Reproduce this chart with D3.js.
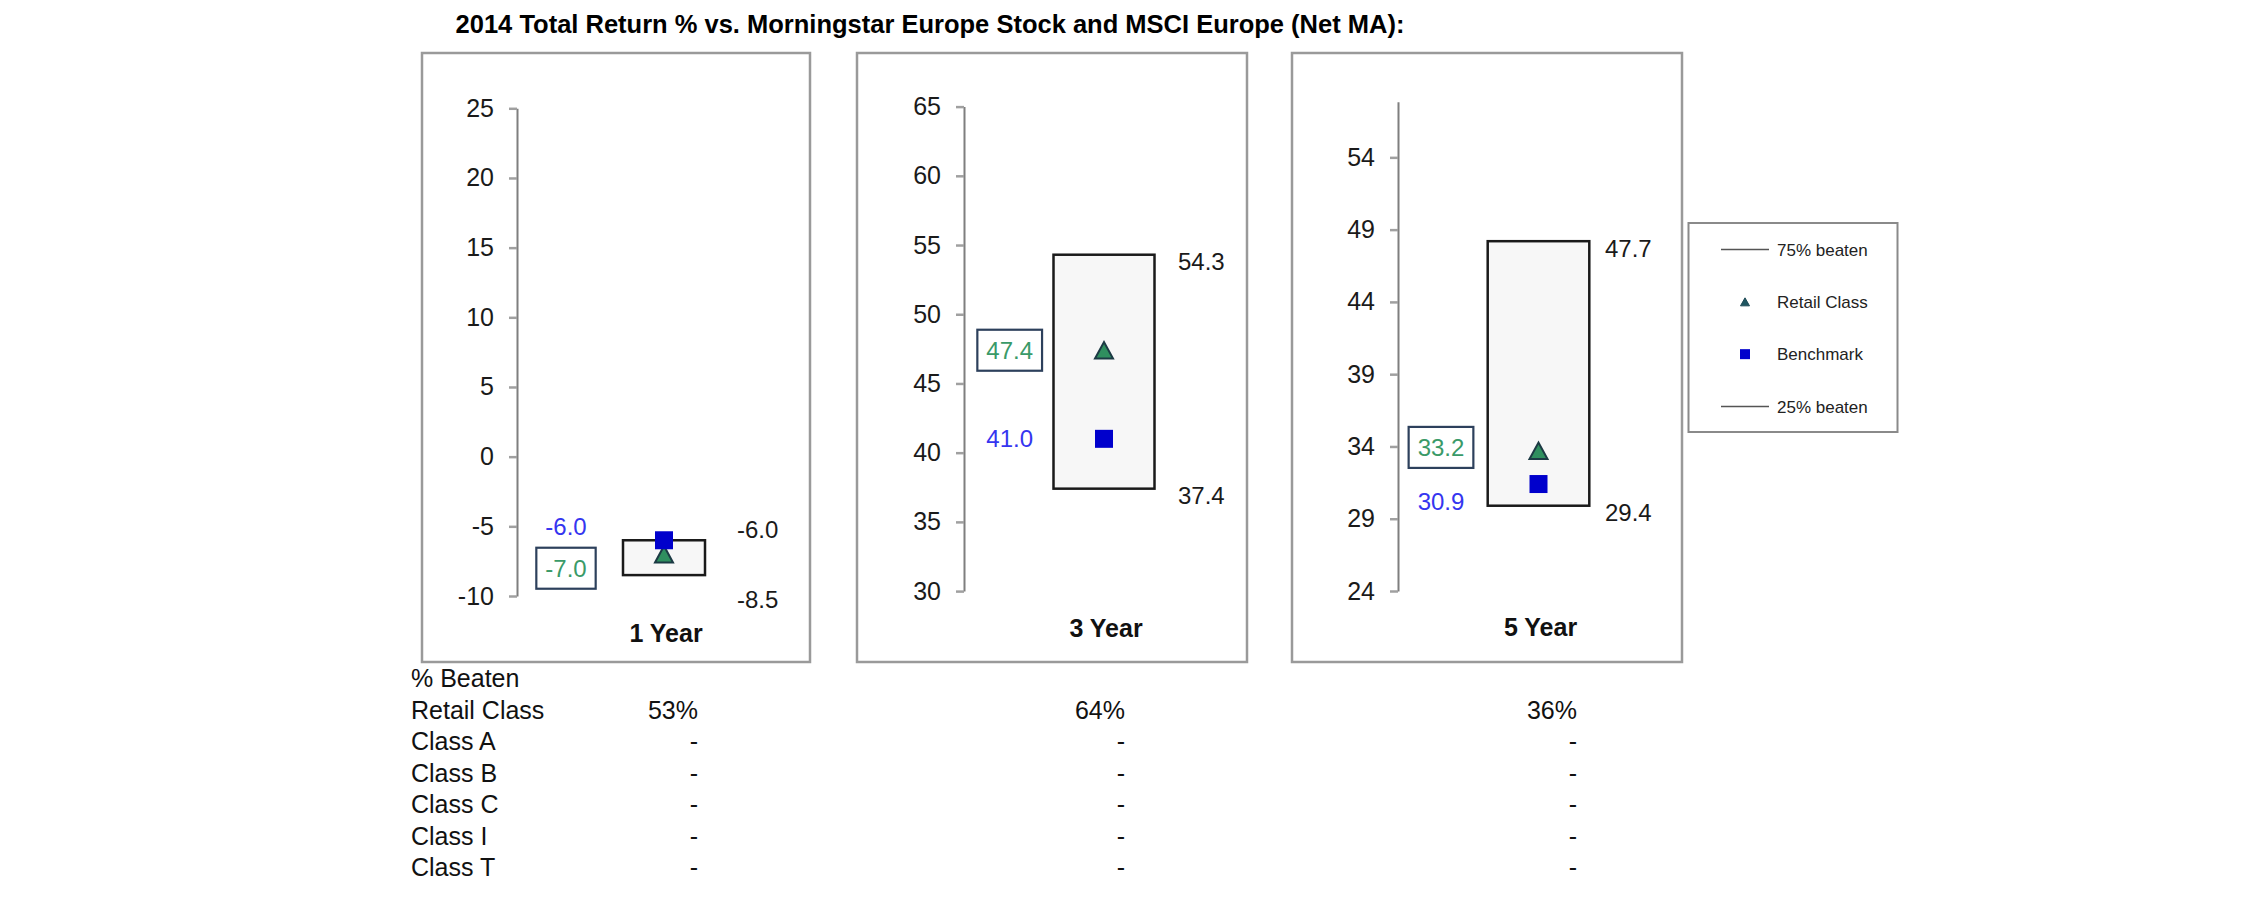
<!DOCTYPE html>
<html>
<head>
<meta charset="utf-8">
<script src="https://cdn.jsdelivr.net/npm/d3@7"></script>
<style>
  html, body { margin: 0; padding: 0; background: #fff; }
  svg { display: block; }
  text { font-family: "Liberation Sans", Arial, Helvetica, sans-serif; }
</style>
</head>
<body>
<svg id="chart" width="2251" height="898"></svg>
<script>
// ---------------- DATA ----------------
const chartTitle = "2014 Total Return % vs. Morningstar Europe Stock and MSCI Europe (Net MA):";
const periods = ["1 Year", "3 Year", "5 Year"];
const beaten75 = [-6.0, 54.3, 47.7];     // top of range box
const beaten25 = [-8.5, 37.4, 29.4];     // bottom of range box
const retailClass = [-7.0, 47.4, 33.2];
const benchmark = [-6.0, 41.0, 30.9];
const yDomains = [[-10, 25], [30, 65], [23.5, 57.35]];
const yTicks = [
  [-10, -5, 0, 5, 10, 15, 20, 25],
  [30, 35, 40, 45, 50, 55, 60, 65],
  [23.5, 28.5, 33.5, 38.5, 43.5, 48.5, 53.5]
];
const legendLabels = ["75% beaten", "Retail Class", "Benchmark", "25% beaten"];
const tableHeader = "% Beaten";
const tableRows = ["Retail Class", "Class A", "Class B", "Class C", "Class I", "Class T"];
const tableValues = [
  ["53%", "64%", "36%"],
  ["-", "-", "-"],
  ["-", "-", "-"],
  ["-", "-", "-"],
  ["-", "-", "-"],
  ["-", "-", "-"]
];

// ---------------- LAYOUT ----------------
const panelLayout = [
  {left: 422, right: 810, top: 53, bottom: 662, axisX: 517, yRange: [596, 108.3], leftLabelX: 566, boxCx: 664, boxW: 82, rightLabelX: 737, periodY: 641.5, labelSep: 42, labelShift: 0},
  {left: 857, right: 1247, top: 53, bottom: 662, axisX: 964, yRange: [591.1, 106.6], leftLabelX: 1009.7, boxCx: 1104, boxW: 101, rightLabelX: 1178, periodY: 637, labelSep: 42, labelShift: 0},
  {left: 1292, right: 1682, top: 53, bottom: 662, axisX: 1398, yRange: [591, 101.7], leftLabelX: 1441, boxCx: 1538.5, boxW: 101.6, rightLabelX: 1605, periodY: 636, labelSep: 54, labelShift: 7}
];
const tableColX = [698, 1125, 1577];
const tableLeft = 411, tableTop = 687, tableStep = 31.5;

const C = {
  panelBorder: "#9a9a9a",
  axis: "#7f7f7f",
  tick: "#a0a0a0",
  box: "#1a1a1a",
  boxFill: "#f7f7f7",
  square: "#0000cc",
  triFill: "#2f8f5f",
  triStroke: "#1c3a44",
  greenText: "#3a9a68",
  greenBox: "#2d405c",
  blueText: "#3535f0",
  text: "#1a1a1a"
};

const svg = d3.select("#chart");

// Title
svg.append("text")
  .attr("x", 930).attr("y", 33)
  .attr("text-anchor", "middle")
  .attr("font-size", 25.5).attr("font-weight", "bold")
  .attr("fill", "#000")
  .text(chartTitle);

function spread(ys, minSep) {
  const [a, b] = ys;
  if (Math.abs(b - a) >= minSep) return ys;
  const mid = (a + b) / 2;
  return a <= b ? [mid - minSep / 2, mid + minSep / 2] : [mid + minSep / 2, mid - minSep / 2];
}

function triPath(cx, cy, w, h) {
  return `M${cx - w / 2},${cy + h / 2}L${cx + w / 2},${cy + h / 2}L${cx},${cy - h / 2}Z`;
}

periods.forEach((p, i) => {
  const L = panelLayout[i];
  const g = svg.append("g");

  g.append("rect")
    .attr("x", L.left).attr("y", L.top)
    .attr("width", L.right - L.left).attr("height", L.bottom - L.top)
    .attr("fill", "#fff").attr("stroke", C.panelBorder).attr("stroke-width", 2.5);

  const y = d3.scaleLinear().domain(yDomains[i]).range(L.yRange);

  const axis = d3.axisLeft(y)
    .tickValues(yTicks[i])
    .tickSize(8)
    .tickSizeOuter(0)
    .tickPadding(15)
    .tickFormat(d => String(Math.round(d)));

  const ag = g.append("g").attr("transform", `translate(${L.axisX},0)`).call(axis);
  ag.select(".domain").attr("stroke", C.axis).attr("stroke-width", 2);
  ag.selectAll(".tick line").attr("stroke", C.tick).attr("stroke-width", 2.5);
  ag.selectAll(".tick text")
    .attr("font-size", 25).attr("fill", C.text)
    .attr("font-family", "Liberation Sans, Arial, sans-serif");

  // Range box (25% - 75% beaten)
  const yTop = y(beaten75[i]), yBot = y(beaten25[i]);
  g.append("rect")
    .attr("x", L.boxCx - L.boxW / 2).attr("y", yTop)
    .attr("width", L.boxW).attr("height", yBot - yTop)
    .attr("fill", C.boxFill).attr("stroke", C.box).attr("stroke-width", 2.5);

  // Markers
  g.append("path")
    .attr("d", triPath(L.boxCx, y(retailClass[i]), 18, 16.5))
    .attr("fill", C.triFill).attr("stroke", C.triStroke).attr("stroke-width", 2)
    .attr("stroke-linejoin", "miter");
  const sq = 18;
  g.append("rect")
    .attr("x", L.boxCx - sq / 2).attr("y", y(benchmark[i]) - sq / 2)
    .attr("width", sq).attr("height", sq)
    .attr("fill", C.square);

  // Right labels (box values)
  const [rTop, rBot] = spread([yTop, yBot], 70);
  [[beaten75[i], rTop], [beaten25[i], rBot]].forEach(([v, yy]) => {
    g.append("text")
      .attr("x", L.rightLabelX).attr("y", yy + 7).attr("dy", "0.36em")
      .attr("font-size", 24).attr("fill", C.text)
      .text(v.toFixed(1));
  });

  // Left labels (benchmark blue, retail green boxed)
  const yb = y(benchmark[i]), yr = y(retailClass[i]);
  let lb, lr;
  if (yb <= yr) { [lb, lr] = spread([yb, yr], L.labelSep); } else { [lr, lb] = spread([yr, yb], L.labelSep); }
  lb += L.labelShift; lr += L.labelShift;

  g.append("text")
    .attr("x", L.leftLabelX).attr("y", lb).attr("dy", "0.36em")
    .attr("text-anchor", "middle")
    .attr("font-size", 24).attr("fill", C.blueText)
    .text(benchmark[i].toFixed(1));

  const gbox = g.append("rect")
    .attr("fill", "#fff").attr("stroke", C.greenBox).attr("stroke-width", 2.2);
  const gt = g.append("text")
    .attr("x", L.leftLabelX).attr("y", lr).attr("dy", "0.36em")
    .attr("text-anchor", "middle")
    .attr("font-size", 24).attr("fill", C.greenText)
    .text(retailClass[i].toFixed(1));
  const tw = gt.node().getComputedTextLength();
  gbox.attr("x", L.leftLabelX - tw / 2 - 9).attr("y", lr - 20.5)
    .attr("width", tw + 18).attr("height", 41);

  // Period label
  g.append("text")
    .attr("x", L.boxCx + 2).attr("y", L.periodY)
    .attr("text-anchor", "middle")
    .attr("font-size", 25).attr("font-weight", "bold").attr("fill", "#111")
    .text(p);
});

// Legend
const lg = svg.append("g");
lg.append("rect")
  .attr("x", 1688.5).attr("y", 223).attr("width", 209).attr("height", 209)
  .attr("fill", "#fff").attr("stroke", "#8a8a8a").attr("stroke-width", 2);
const legendY = d3.scalePoint().domain(legendLabels).range([249.5, 406.5]);
legendLabels.forEach((lab, k) => {
  const yy = legendY(lab);
  if (k === 0 || k === 3) {
    lg.append("line").attr("x1", 1721).attr("x2", 1769).attr("y1", yy).attr("y2", yy)
      .attr("stroke", "#555").attr("stroke-width", 1.5);
  } else if (k === 1) {
    lg.append("path").attr("d", triPath(1745, yy, 9, 8))
      .attr("fill", "#1e5560").attr("stroke", "#1e4a55").attr("stroke-width", 1);
  } else {
    lg.append("rect").attr("x", 1740).attr("y", yy - 5).attr("width", 10).attr("height", 10)
      .attr("fill", C.square);
  }
  lg.append("text").attr("x", 1777).attr("y", yy).attr("dy", "0.36em")
    .attr("font-size", 17).attr("fill", "#222").text(lab);
});

// Table
const tg = svg.append("g");
tg.append("text").attr("x", tableLeft).attr("y", tableTop)
  .attr("font-size", 25).attr("fill", "#111").text(tableHeader);
tableRows.forEach((r, j) => {
  const yy = tableTop + (j + 1) * tableStep;
  tg.append("text").attr("x", tableLeft).attr("y", yy)
    .attr("font-size", 25).attr("fill", "#111").text(r);
  tableValues[j].forEach((v, c) => {
    tg.append("text").attr("x", tableColX[c]).attr("y", yy)
      .attr("text-anchor", "end")
      .attr("font-size", 25).attr("fill", "#111").text(v);
  });
});
</script>
</body>
</html>
